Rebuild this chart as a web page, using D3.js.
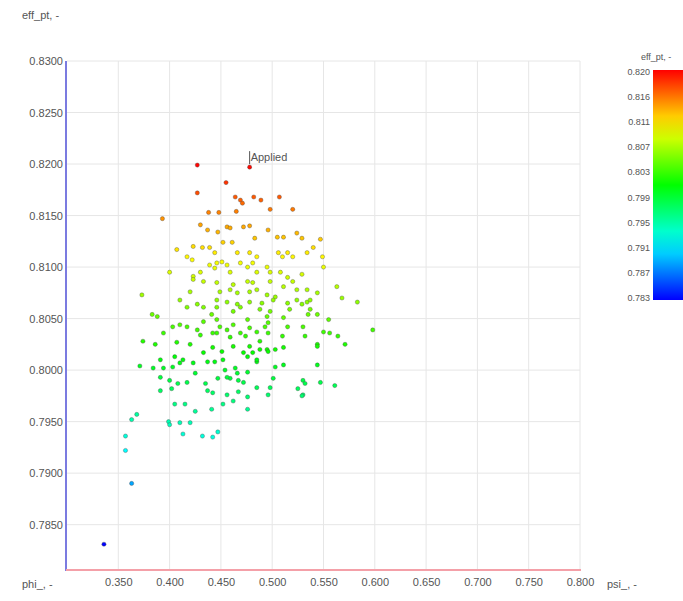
<!DOCTYPE html>
<html>
<head>
<meta charset="utf-8">
<script src="https://cdn.jsdelivr.net/npm/d3@7"></script>
<style>
body { margin: 0; background: #fff; }
text { font-family: "Liberation Sans", Arial, sans-serif; fill: #555; }
</style>
</head>
<body>
<div id="chart"></div>
<script>
let width = 683,
	height = 601;

// phi_ (x) and eff_pt (y) of every design point
let phi = [
	0.427, 0.478, 0.455, 0.427, 0.464, 0.469, 0.471, 0.482, 0.489, 0.507,
	0.520, 0.438, 0.448, 0.465, 0.498, 0.393, 0.430, 0.437, 0.447, 0.456,
	0.459, 0.472, 0.478, 0.483, 0.496, 0.505, 0.511, 0.524, 0.529, 0.547,
	0.452, 0.461, 0.407, 0.423, 0.432, 0.439, 0.417, 0.422, 0.444, 0.466,
	0.478, 0.485, 0.506, 0.510, 0.515, 0.520, 0.534, 0.540, 0.549, 0.439,
	0.446, 0.451, 0.456, 0.444, 0.469, 0.476, 0.481, 0.495, 0.400, 0.423,
	0.430, 0.459, 0.485, 0.498, 0.508, 0.515, 0.520, 0.529, 0.550, 0.423,
	0.433, 0.446, 0.462, 0.476, 0.481, 0.498, 0.511, 0.524, 0.534, 0.420,
	0.449, 0.459, 0.466, 0.478, 0.485, 0.495, 0.503, 0.410, 0.446, 0.456,
	0.466, 0.478, 0.490, 0.501, 0.515, 0.524, 0.534, 0.417, 0.433, 0.469,
	0.488, 0.498, 0.517, 0.537, 0.544, 0.403, 0.410, 0.417, 0.427, 0.430,
	0.446, 0.449, 0.456, 0.462, 0.469, 0.476, 0.478, 0.485, 0.493, 0.496,
	0.511, 0.515, 0.530, 0.550, 0.388, 0.394, 0.442, 0.459, 0.510, 0.532,
	0.386, 0.407, 0.420, 0.433, 0.442, 0.451, 0.462, 0.478, 0.481, 0.495,
	0.544, 0.405, 0.410, 0.413, 0.423, 0.452, 0.476, 0.485, 0.384, 0.394,
	0.403, 0.425, 0.454, 0.464, 0.466, 0.503, 0.511, 0.544, 0.391, 0.400,
	0.408, 0.417, 0.435, 0.447, 0.459, 0.467, 0.472, 0.501, 0.530, 0.547,
	0.391, 0.402, 0.437, 0.442, 0.456, 0.467, 0.476, 0.485, 0.496, 0.525,
	0.530, 0.405, 0.415, 0.425, 0.441, 0.452, 0.462, 0.476, 0.399, 0.400,
	0.410, 0.420, 0.413, 0.432, 0.442, 0.447, 0.373, 0.383, 0.374, 0.391,
	0.371, 0.368, 0.363, 0.357, 0.357, 0.363, 0.336, 0.563, 0.568, 0.583,
	0.555, 0.598, 0.556, 0.564, 0.571, 0.544, 0.535, 0.529, 0.537, 0.544,
	0.503, 0.511, 0.488, 0.496, 0.485, 0.532, 0.561, 0.498, 0.529, 0.427,
	0.433, 0.446, 0.474, 0.496, 0.472, 0.488, 0.444, 0.476, 0.456, 0.437,
	0.441, 0.462, 0.446, 0.495
];
let eff = [
	0.8199, 0.8197, 0.8182, 0.8172, 0.8168, 0.8165, 0.8162, 0.8168, 0.8165, 0.8168,
	0.8156, 0.8153, 0.8153, 0.8154, 0.8156, 0.8147, 0.8141, 0.8136, 0.8134, 0.8139,
	0.8138, 0.8139, 0.8140, 0.8128, 0.8136, 0.8129, 0.8129, 0.8133, 0.8128, 0.8127,
	0.8124, 0.8124, 0.8117, 0.8120, 0.8119, 0.8119, 0.8110, 0.8107, 0.8114, 0.8114,
	0.8114, 0.8110, 0.8114, 0.8110, 0.8114, 0.8110, 0.8114, 0.8119, 0.8110, 0.8102,
	0.8104, 0.8105, 0.8102, 0.8099, 0.8104, 0.8100, 0.8104, 0.8100, 0.8095, 0.8091,
	0.8095, 0.8095, 0.8095, 0.8095, 0.8095, 0.8090, 0.8086, 0.8093, 0.8100, 0.8088,
	0.8086, 0.8085, 0.8083, 0.8086, 0.8085, 0.8086, 0.8081, 0.8078, 0.8078, 0.8076,
	0.8076, 0.8078, 0.8075, 0.8076, 0.8078, 0.8073, 0.8071, 0.8068, 0.8068, 0.8066,
	0.8064, 0.8066, 0.8065, 0.8068, 0.8065, 0.8068, 0.8066, 0.8061, 0.8061, 0.8061,
	0.8059, 0.8057, 0.8059, 0.8059, 0.8054, 0.8042, 0.8044, 0.8042, 0.8039, 0.8034,
	0.8049, 0.8042, 0.8039, 0.8044, 0.8036, 0.8049, 0.8041, 0.8037, 0.8042, 0.8036,
	0.8051, 0.8042, 0.8042, 0.8037, 0.8052, 0.8036, 0.8036, 0.8032, 0.8033, 0.8033,
	0.8025, 0.8027, 0.8025, 0.8017, 0.8022, 0.8018, 0.8023, 0.8023, 0.8017, 0.8020,
	0.8025, 0.8013, 0.8007, 0.8010, 0.8007, 0.8010, 0.8013, 0.8008, 0.8002, 0.8002,
	0.8003, 0.7997, 0.8000, 0.8002, 0.7997, 0.8003, 0.8005, 0.8005, 0.7993, 0.7990,
	0.7987, 0.7988, 0.7987, 0.7992, 0.7992, 0.7990, 0.7988, 0.7992, 0.7990, 0.7988,
	0.7980, 0.7982, 0.7980, 0.7978, 0.7976, 0.7979, 0.7974, 0.7983, 0.7976, 0.7982,
	0.7976, 0.7967, 0.7967, 0.7960, 0.7962, 0.7967, 0.7970, 0.7962, 0.7950, 0.7947,
	0.7949, 0.7949, 0.7938, 0.7936, 0.7935, 0.7940, 0.8073, 0.8054, 0.8028, 0.8010,
	0.8004, 0.7957, 0.7952, 0.7936, 0.7922, 0.7890, 0.7831, 0.8081, 0.8070, 0.8066,
	0.8049, 0.8039, 0.8036, 0.8033, 0.8025, 0.8023, 0.8054, 0.8064, 0.8068, 0.8075,
	0.8020, 0.8022, 0.8028, 0.8018, 0.8010, 0.7987, 0.7985, 0.7983, 0.7975, 0.8064,
	0.8047, 0.8036, 0.8033, 0.8046, 0.8017, 0.8020, 0.8008, 0.7998, 0.7993, 0.8008,
	0.8054, 0.8057, 0.8061, 0.8052
];

let xTicks = [0.35, 0.40, 0.45, 0.50, 0.55, 0.60, 0.65, 0.70, 0.75, 0.80];
let yTicks = [0.785, 0.790, 0.795, 0.800, 0.805, 0.810, 0.815, 0.820, 0.825, 0.830];
let legendLabels = ["0.820", "0.816", "0.811", "0.807", "0.803", "0.799", "0.795", "0.791", "0.787", "0.783"];
let appliedIndex = 1;

let svg = d3.select('#chart').append('svg')
	.attr('width', width)
	.attr('height', height);

let x = d3.scaleLinear()
	.domain([0.3, 0.8])
	.range([67, 580]);

let y = d3.scaleLinear()
	.domain([0.7806, 0.830])
	.range([570, 61]);

// rainbow: blue (low) -> red (high)
let rainbow = function (t) {
	return d3.hsl(240 * (1 - t), 1, 0.5) + "";
};
let color = d3.scaleSequential(rainbow)
	.domain([0.783, 0.820])
	.clamp(true);

// grid
svg.append('g').selectAll('line')
	.data(xTicks)
	.enter().append('line')
	.attr('x1', d => x(d)).attr('x2', d => x(d))
	.attr('y1', y(0.830)).attr('y2', 570)
	.attr('stroke', '#e6e6e6');

svg.append('g').selectAll('line')
	.data(yTicks)
	.enter().append('line')
	.attr('x1', 67).attr('x2', 580)
	.attr('y1', d => y(d)).attr('y2', d => y(d))
	.attr('stroke', '#e6e6e6');

// axes, labels only
let xAxis = d3.axisBottom(x)
	.tickValues(xTicks)
	.tickSize(0)
	.tickPadding(8)
	.tickFormat(d3.format(".3f"));

let yAxis = d3.axisLeft(y)
	.tickValues(yTicks)
	.tickSize(0)
	.tickPadding(3)
	.tickFormat(d3.format(".4f"));

let gx = svg.append('g')
	.attr('transform', 'translate(0,570)')
	.call(xAxis);
gx.select('.domain').remove();
gx.selectAll('text').attr('font-size', 11).attr('fill', '#555');

let gy = svg.append('g')
	.attr('transform', 'translate(66,0)')
	.call(yAxis);
gy.select('.domain').remove();
gy.selectAll('text').attr('font-size', 11).attr('fill', '#555');

svg.append('line')
	.attr('x1', 66).attr('x2', 66)
	.attr('y1', 61).attr('y2', 571)
	.attr('stroke', '#7b7be0').attr('stroke-width', 2);

svg.append('line')
	.attr('x1', 66).attr('x2', 581)
	.attr('y1', 570).attr('y2', 570)
	.attr('stroke', '#f4a0a8').attr('stroke-width', 2);

// axis titles
svg.append('text').attr('x', 22).attr('y', 19).attr('font-size', 11).text('eff_pt, -');
svg.append('text').attr('x', 22).attr('y', 588).attr('font-size', 11).text('phi_, -');
svg.append('text').attr('x', 607).attr('y', 588).attr('font-size', 11).text('psi_, -');

// points
let points = phi.map(function (d, i) {
	return { phi: d, eff: eff[i] };
});

svg.selectAll('.pt')
	.data(points)
	.enter().append('circle').classed('pt', true)
	.attr('cx', d => x(d.phi))
	.attr('cy', d => y(d.eff))
	.attr('r', 2.1)
	.attr('fill', d => color(d.eff))
	.attr('stroke', 'rgba(70,70,70,0.45)')
	.attr('stroke-width', 0.8);

// "Applied" marker
let ap = points[appliedIndex];
svg.append('line')
	.attr('x1', x(ap.phi)).attr('x2', x(ap.phi))
	.attr('y1', y(ap.eff) - 3).attr('y2', y(ap.eff) - 16)
	.attr('stroke', '#555');
svg.append('text')
	.attr('x', x(ap.phi) + 1)
	.attr('y', y(ap.eff) - 6)
	.attr('font-size', 11)
	.attr('fill', '#444')
	.text('Applied');

// colour legend
let defs = svg.append('defs');
let grad = defs.append('linearGradient')
	.attr('id', 'rainbow')
	.attr('x1', 0).attr('y1', 1).attr('x2', 0).attr('y2', 0);
grad.selectAll('stop')
	.data(d3.range(0, 1.01, 0.1))
	.enter().append('stop')
	.attr('offset', d => d)
	.attr('stop-color', d => rainbow(d));

let legY = d3.scalePoint()
	.domain(legendLabels)
	.range([72, 298]);

svg.append('rect')
	.attr('x', 653).attr('y', 70)
	.attr('width', 40).attr('height', 230)
	.attr('fill', 'url(#rainbow)');

svg.append('g').selectAll('text')
	.data(legendLabels)
	.enter().append('text')
	.attr('x', 650)
	.attr('y', d => legY(d) + 3)
	.attr('text-anchor', 'end')
	.attr('font-size', 9)
	.text(d => d);

svg.append('text')
	.attr('x', 641).attr('y', 60)
	.attr('font-size', 9)
	.text('eff_pt, -');
</script>
</body>
</html>
